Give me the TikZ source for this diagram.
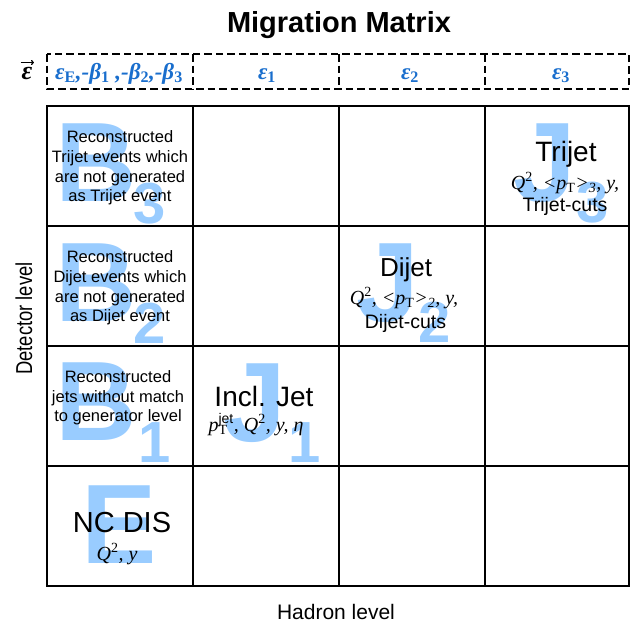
\documentclass[tikz,border=0pt]{standalone}
\usepackage{fontspec}
\setmainfont{Liberation Sans}
\newfontfamily\tmsfont{Liberation Serif}
\usetikzlibrary{arrows.meta}
\definecolor{ltblue}{RGB}{153,204,255}
\definecolor{hdrblue}{RGB}{25,110,205}
\newcommand{\fsz}[2]{\fontsize{#1}{#2}\selectfont}
\newcommand{\upsb}[1]{\textsubscript{\upshape #1}}
\newcommand{\upsp}[1]{\textsuperscript{\upshape #1}}
\tikzset{
  every node/.style={inner sep=0pt, outer sep=0pt},
  bigL/.style={font=\fsz{113}{113}\bfseries, text=ltblue, anchor=base},
  subL/.style={font=\fsz{58}{58}\bfseries, text=ltblue, anchor=base},
  celltxt/.style={font=\fsz{16.5}{19.7}, align=center, anchor=center},
  bigtxt/.style={font=\fsz{28}{28}, anchor=base},
  mathtxt/.style={font=\fsz{20}{20}\tmsfont\itshape, anchor=base},
  cuttxt/.style={font=\fsz{19.5}{19.5}, anchor=base},
  hdrtxt/.style={font=\fsz{23}{23}\tmsfont\bfseries\itshape, text=hdrblue, anchor=base},
  gridline/.style={line width=1.9pt},
  hdrline/.style={line width=2.8pt, dash pattern=on 7.5pt off 4pt},
  axislabel/.style={font=\fsz{21}{21}},
  vecarrow/.style={line width=1.1pt, -{To[length=3pt,width=5pt]}}
}
\begin{document}
\begin{tikzpicture}[x=1pt,y=-1pt]
\useasboundingbox (0,0) rectangle (636,622);

% big background letters
\node[bigL] (b3) at (96,201) {B};
\node[subL] (b3s) at (150,223) {3};
\node[bigL] (b2) at (96,321) {B};
\node[subL] (b2s) at (150,343) {2};
\node[bigL] (b1) at (96,440) {B};
\node[subL] (b1s) at (155,462) {1};
\node[bigL] (ee) at (119,563) {E};
\node[bigL] (j3) at (545,201) {J};
\node[subL] (j3s) at (593,222) {3};
\node[bigL] (j2) at (388,321) {J};
\node[subL] (j2s) at (435,342) {2};
\node[bigL] (j1) at (255,441) {J};
\node[subL] (j1s) at (305,462) {1};

% title
\node[font=\fsz{29}{29}\bfseries, anchor=base] (title) at (339,32) {Migration Matrix};

% header
\node[font=\fsz{26}{26}\tmsfont\bfseries\itshape, anchor=base] (evec) at (27,79) {ε};
\coordinate (va) at (20.5,62.5);
\coordinate (vb) at (34,62.5);
\draw[vecarrow] (va) -- (vb);
\node[hdrtxt] (h0) at (119,79) {ε\upsb{E},-β\upsb{1} ,-β\upsb{2},-β\upsb{3}};
\node[hdrtxt] (h1) at (267,79) {ε\upsb{1}};
\node[hdrtxt] (h2) at (410,79) {ε\upsb{2}};
\node[hdrtxt] (h3) at (561,79) {ε\upsb{3}};

\draw[hdrline] (47,54) rectangle (629,89);
\foreach \xx in {193,339,485} \draw[hdrline] (\xx,54) -- (\xx,89);

% cell texts
\node[celltxt] (t11) at (120,168) {Reconstructed\\Trijet events which\\are not generated\\as Trijet event};
\node[celltxt] (t21) at (120,288) {Reconstructed\\Dijet events which\\are not generated\\as Dijet event};
\node[celltxt] (t31) at (118,398) {Reconstructed\\jets without match\\to generator level};

\node[bigtxt] (tri) at (566,161) {Trijet};
\node[mathtxt] (trim) at (565,189) {Q\upsp{2}, <p\upsb{T}>\textsubscript{3}, y,};
\node[cuttxt] (tric) at (565,211) {Trijet-cuts};

\node[bigtxt, font=\fsz{26}{26}] (dij) at (406,276) {Dijet};
\node[mathtxt] (dijm) at (404,304) {Q\upsp{2}, <p\upsb{T}>\textsubscript{2}, y,};
\node[cuttxt] (dijc) at (405.5,328) {Dijet-cuts};

\node[bigtxt] (inc) at (264,406) {Incl. Jet};
\node[mathtxt] (incm) at (256,431) {p\rlap{\upsb{T}}\textsuperscript{\normalfont jet}, Q\upsp{2}, y, η};

\node[bigtxt, font=\fsz{29}{29}] (nc) at (122,532) {NC DIS};
\node[mathtxt] (ncm) at (117,560) {Q\upsp{2}, y};

% grid
\draw[gridline] (47,106) rectangle (629,586);
\foreach \xx in {193,339,485} \draw[gridline] (\xx,106) -- (\xx,586);
\foreach \yy in {226,346,466} \draw[gridline] (47,\yy) -- (629,\yy);

% axis labels
\node[axislabel, font=\fsz{23}{23}, rotate=90, anchor=center] (det) at (24,318.5) {\scalebox{0.8}[1]{Detector level}};
\node[axislabel, anchor=base] (had) at (336,619) {Hadron level};
\end{tikzpicture}
\end{document}
